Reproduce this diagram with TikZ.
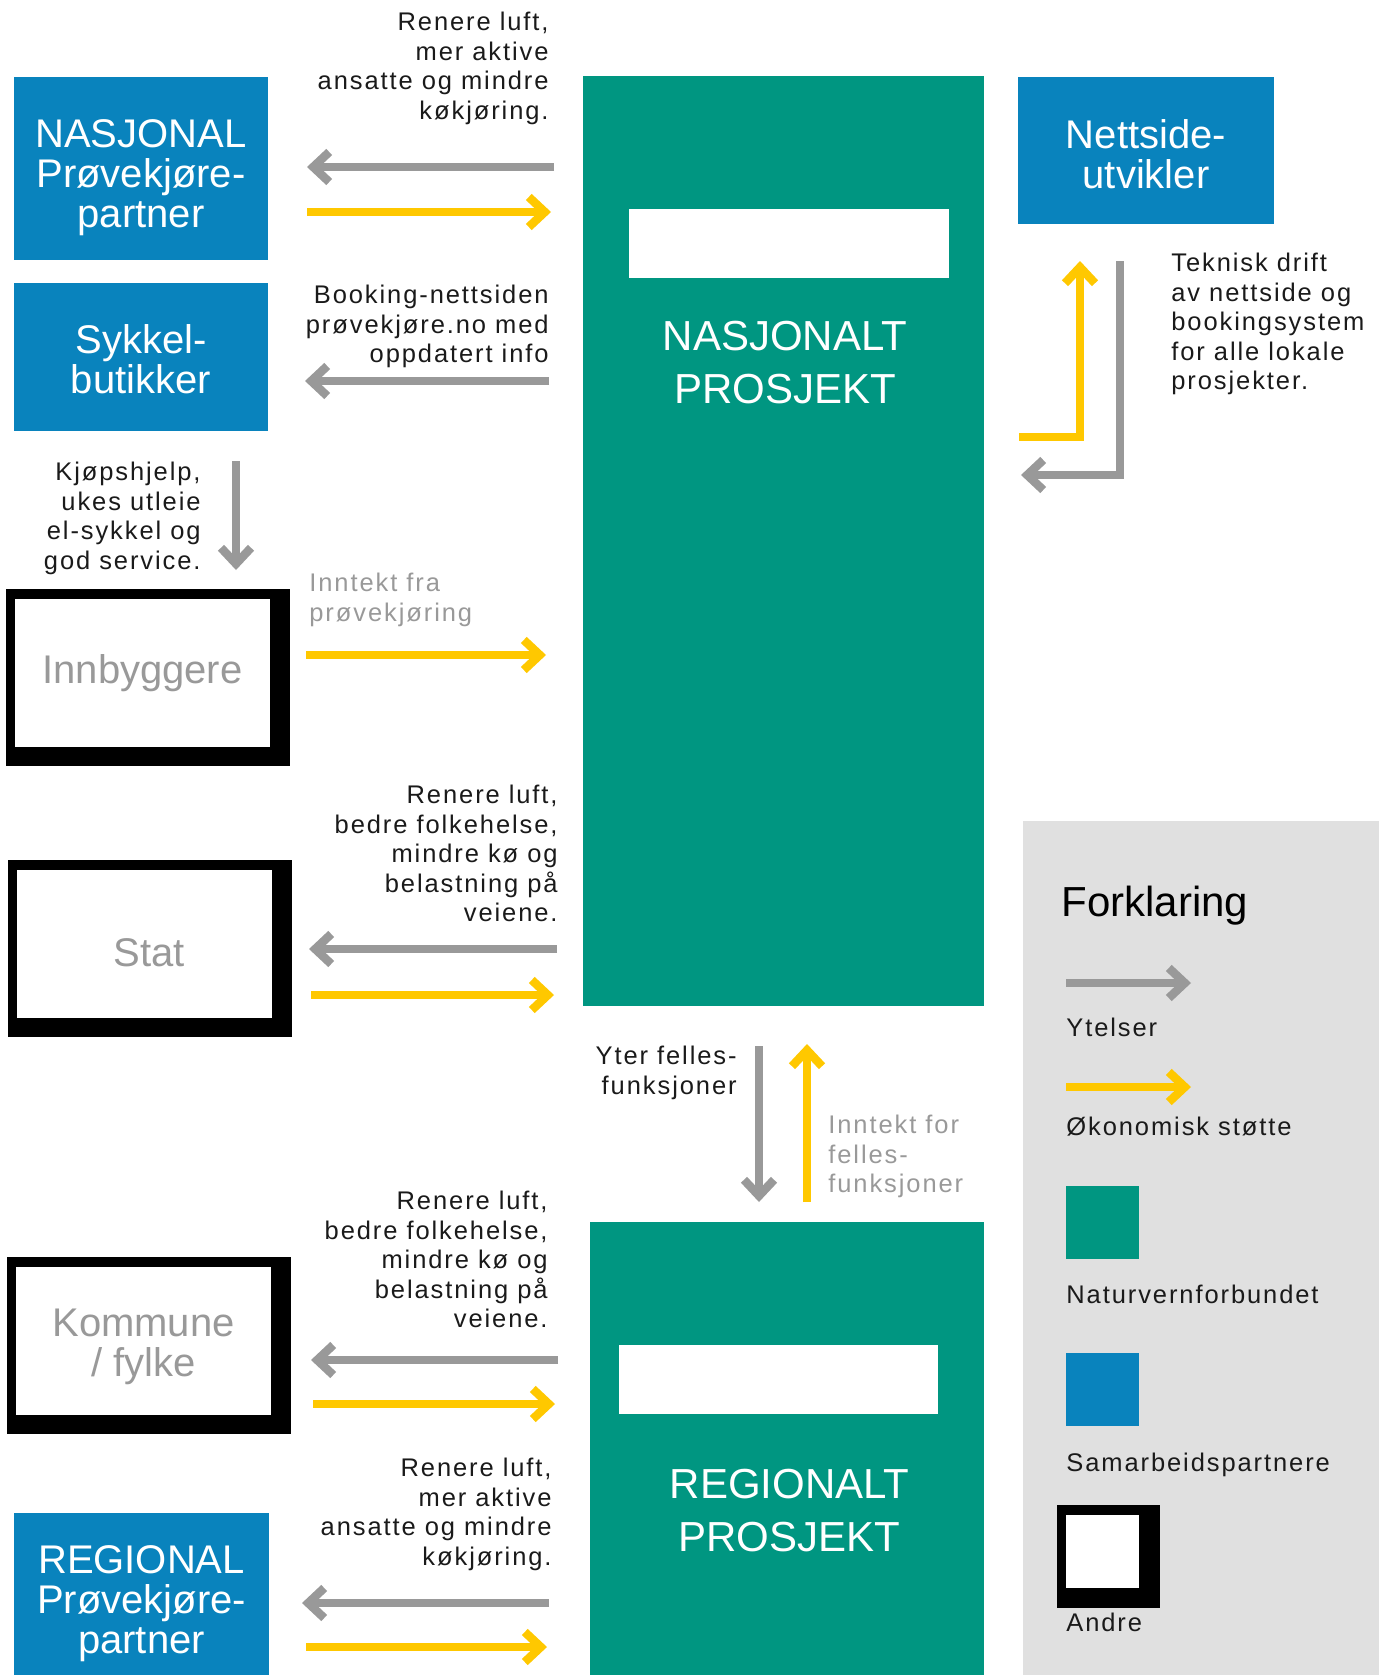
\documentclass[tikz,border=0pt]{standalone}
\usepackage{fontspec}
\setmainfont{Liberation Sans}
\newfontfamily\sperretfont{Liberation Sans}[LetterSpace=7.5]
\usetikzlibrary{positioning,arrows.meta,backgrounds}

\definecolor{nvgronn}{RGB}{0,150,129}
\definecolor{nvblaa}{RGB}{9,131,189}
\definecolor{pilgraa}{RGB}{153,153,153}
\definecolor{pilgul}{RGB}{255,200,0}
\definecolor{tekstgraa}{RGB}{153,153,153}
\definecolor{tekstmork}{RGB}{26,26,26}
\definecolor{legendbg}{RGB}{224,224,224}

\newcommand{\boksfont}{\fontsize{20}{20}\selectfont}
\newcommand{\tittelfont}{\fontsize{21}{26.5}\selectfont}
\newcommand{\infofont}{\sperretfont\fontsize{12.75}{14.7}\selectfont}
% usynlig stolpe som senker teksten i boksen
\newcommand{\senk}[1]{\rule{0pt}{#1}}

\tikzset{
  partner/.style={fill=nvblaa, text=white, font=\boksfont, align=center, inner sep=0pt},
  andre/.style={fill=white, text=tekstgraa, font=\boksfont, align=center, inner sep=0pt,
    minimum width=127.5pt, minimum height=74pt},
  prosjekt/.style={fill=nvgronn, inner sep=0pt},
  hvitfelt/.style={fill=white, inner sep=0pt, minimum height=34.5pt},
  tittel/.style={text=white, font=\tittelfont, align=center, inner sep=0pt},
  info/.style={font=\infofont, text=tekstmork, inner sep=0pt},
  ytelse/.style={draw=pilgraa, line width=4.25pt, -{Straight Barb[length=8pt,width=15pt]}},
  stotte/.style={draw=pilgul, line width=4.25pt, -{Straight Barb[length=8pt,width=15pt]}},
}

\begin{document}
\begin{tikzpicture}[x=0.5pt, y=-0.5pt]
\useasboundingbox (0,0) rectangle (1386,1675);

% forklaring, bakgrunn
\begin{scope}[on background layer]
  \node[fill=legendbg, inner sep=0pt, minimum width=178pt, minimum height=427pt] (forklaring) at (1201,1248) {};
\end{scope}

% venstre kolonne
\node[partner, minimum width=127pt, minimum height=91.5pt] (nasjpartner) at (141,168.5) {\senk{23.3pt}NASJONAL\\Prøvekjøre-\\partner};
\node[partner, minimum width=127pt, minimum height=74pt] (sykkel) at (141,357) {\senk{16.3pt}Sykkel-\\butikker};
\node[andre] (innb) at (142.5,673) {Innbyggere};
\node[andre] (stat) at (144.5,944) {\hspace*{5pt}\senk{22.8pt}Stat};
\node[andre] (kommune) at (143.5,1341) {\senk{19.6pt}Kommune\\/ fylke};
\node[partner, minimum width=127.5pt, minimum height=91pt] (regpartner) at (141.5,1604) {REGIONAL\\Prøvekjøre-\\partner};

% prosjektene
\node[prosjekt, minimum width=200.5pt, minimum height=465pt] (nasjprosjekt) at (783.5,541) {};
\node[hvitfelt, minimum width=160pt] (nasjfelt) at (789,243.5) {};
\node[tittel, below=21pt of nasjfelt, xshift=-2pt] (nasjtittel) {NASJONALT\\PROSJEKT};
\node[prosjekt, minimum width=197pt, minimum height=226.5pt] (regprosjekt) at (787,1448.5) {};
\node[hvitfelt, minimum width=159.5pt] (regfelt) at (778.5,1379.5) {};
\node[tittel, below=27pt of regfelt, xshift=5.5pt] (regtittel) {REGIONALT\\PROSJEKT};

\node[partner, minimum width=128pt, minimum height=73.5pt] (nettside) at (1146,150.5) {\senk{18.6pt}Nettside-\\utvikler};

% tekster
\node[info, align=right, anchor=north east] (tekst1) at (549,12) {Renere luft,\\mer aktive\\ansatte og mindre\\køkjøring.};
\node[info, align=right, anchor=north east] (tekst2) at (549,285) {Booking-nettsiden\\prøvekjøre.no med\\oppdatert info};
\node[info, align=right, anchor=north east] (tekst3) at (201,462) {Kjøpshjelp,\\ukes utleie\\el-sykkel og\\god service.};
\node[info, align=left, anchor=north west, text=tekstgraa] (tekst4) at (309,573) {Inntekt fra\\prøvekjøring};
\node[info, align=right, anchor=north east] (tekst5) at (558,785) {Renere luft,\\bedre folkehelse,\\mindre kø og\\belastning på\\veiene.};
\node[info, align=right, anchor=north east] (tekst6) at (737,1046) {Yter felles-\\funksjoner};
\node[info, align=left, anchor=north west, text=tekstgraa] (tekst7) at (828,1115) {Inntekt for\\felles-\\funksjoner};
\node[info, align=right, anchor=north east] (tekst8) at (548,1191) {Renere luft,\\bedre folkehelse,\\mindre kø og\\belastning på\\veiene.};
\node[info, align=right, anchor=north east] (tekst9) at (552,1458) {Renere luft,\\mer aktive\\ansatte og mindre\\køkjøring.};
\node[info, align=left, anchor=north west] (tekst10) at (1171,253) {Teknisk drift\\av nettside og\\bookingsystem\\for alle lokale\\prosjekter.};

% piler
\coordinate (g1a) at (554,167);  \coordinate (g1b) at (307,167);
\coordinate (y1a) at (307,212);  \coordinate (y1b) at (551,212);
\coordinate (g2a) at (549,381);  \coordinate (g2b) at (305,381);
\coordinate (g3a) at (236,461);  \coordinate (g3b) at (236,570);
\coordinate (y3a) at (306,655);  \coordinate (y3b) at (546,655);
\coordinate (g4a) at (557,949);  \coordinate (g4b) at (309,949);
\coordinate (y4a) at (311,995);  \coordinate (y4b) at (554,995);
\coordinate (g5a) at (759,1046); \coordinate (g5b) at (759,1202);
\coordinate (y5a) at (807,1202); \coordinate (y5b) at (807,1044);
\coordinate (g6a) at (558,1360); \coordinate (g6b) at (311,1360);
\coordinate (y6a) at (313,1404); \coordinate (y6b) at (555,1404);
\coordinate (g7a) at (549,1603); \coordinate (g7b) at (302,1603);
\coordinate (y7a) at (306,1647); \coordinate (y7b) at (547,1647);
\coordinate (y8a) at (1019,437); \coordinate (y8b) at (1080,261);
\coordinate (g8a) at (1120,261); \coordinate (g8b) at (1021,475);

\draw[ytelse] (g1a) -- (g1b);
\draw[stotte] (y1a) -- (y1b);
\draw[ytelse] (g2a) -- (g2b);
\draw[ytelse] (g3a) -- (g3b);
\draw[stotte] (y3a) -- (y3b);
\draw[ytelse] (g4a) -- (g4b);
\draw[stotte] (y4a) -- (y4b);
\draw[ytelse] (g5a) -- (g5b);
\draw[stotte] (y5a) -- (y5b);
\draw[ytelse] (g6a) -- (g6b);
\draw[stotte] (y6a) -- (y6b);
\draw[ytelse] (g7a) -- (g7b);
\draw[stotte] (y7a) -- (y7b);
\draw[stotte] (y8a) -| (y8b);
\draw[ytelse] (g8a) |- (g8b);

% forklaring
\node[font=\fontsize{21}{24}\selectfont, anchor=north west, inner sep=0pt] (forkltittel) at (1061,886) {Forklaring};
\coordinate (lg1a) at (1066,983);  \coordinate (lg1b) at (1191,983);
\coordinate (lg2a) at (1066,1087); \coordinate (lg2b) at (1191,1087);
\draw[ytelse] (lg1a) -- (lg1b);
\draw[stotte] (lg2a) -- (lg2b);
\node[info, anchor=north west] (lytelser) at (1066,1018) {Ytelser};
\node[info, anchor=north west] (lstotte) at (1066,1117) {Økonomisk støtte};
\node[fill=nvgronn, inner sep=0pt, minimum size=36.5pt, anchor=north west] (lgronn) at (1066,1186) {};
\node[info, anchor=north west] (lnatur) at (1066,1285) {Naturvernforbundet};
\node[fill=nvblaa, inner sep=0pt, minimum size=36.5pt, anchor=north west] (lblaa) at (1066,1353) {};
\node[info, anchor=north west] (lsamarb) at (1066,1453) {Samarbeidspartnere};
\node[fill=white, inner sep=0pt, minimum size=36.5pt, anchor=north west] (landre) at (1066,1515) {};
\node[info, anchor=north west] (landretekst) at (1066,1613) {Andre};

% svarte rammer
\begin{scope}[on background layer]
  \foreach \n in {innb,stat,kommune,landre}
    \fill ([shift={(-9,-10)}]\n.north west) rectangle ([shift={(20,19)}]\n.south east);
\end{scope}
\end{tikzpicture}
\end{document}
